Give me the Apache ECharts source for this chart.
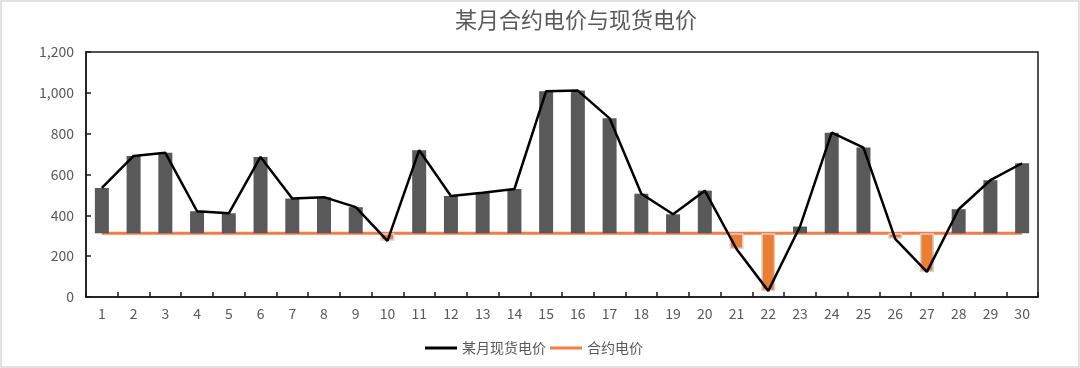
<!DOCTYPE html>
<html>
<head>
<meta charset="utf-8">
<script src="https://cdn.jsdelivr.net/npm/echarts@6/dist/echarts.min.js"></script>
<style>
html,body{margin:0;padding:0;background:#fff;}
#wrap{width:1080px;height:368px;box-sizing:border-box;border:2px solid #e2e2e2;position:relative;overflow:hidden;}
#chart{position:absolute;left:-2px;top:-2px;width:1080px;height:368px;}
</style>
</head>
<body>
<div id="wrap"><div id="chart"></div></div>
<script>
const days = ['1','2','3','4','5','6','7','8','9','10','11','12','13','14','15','16','17','18','19','20','21','22','23','24','25','26','27','28','29','30'];
const spotPrice = [534,691,706,420,410,686,482,489,440,275,719,495,511,529,1008,1011,875,506,405,521,235,30,345,805,732,285,123,430,572,655];
const contractPrice = [312,312,312,312,312,312,312,312,312,312,312,312,312,312,312,312,312,312,312,312,312,312,312,312,312,312,312,312,312,312];
const yTicks = [0,200,400,600,800,1000,1200];

const base = spotPrice.map((v,i)=>Math.min(v,contractPrice[i]));
const up = spotPrice.map((v,i)=>v>contractPrice[i]?v-contractPrice[i]:'-');
const down = spotPrice.map((v,i)=>v<contractPrice[i]?contractPrice[i]-v:'-');

const chart = echarts.init(document.getElementById('chart'), null, {renderer:'canvas'});
const font = "'Noto Sans CJK SC','Noto Sans',sans-serif";
chart.setOption({
  animation:false,
  title:{text:'某月合约电价与现货电价',left:450,top:4,textStyle:{fontFamily:font,fontSize:22,fontWeight:'normal',color:'#595959'}},
  grid:{left:86,right:42,top:52,bottom:71,show:true,borderColor:'#1a1a1a',borderWidth:1.5,backgroundColor:'transparent'},
  legend:{data:['某月现货电价','合约电价'],bottom:8,left:420,itemWidth:32,itemHeight:3,itemGap:4,icon:'rect',
    textStyle:{fontFamily:font,fontSize:14,color:'#595959'}},
  xAxis:{type:'category',data:days,boundaryGap:true,
    axisLine:{lineStyle:{color:'#1a1a1a',width:1.5}},
    axisTick:{show:true,inside:true,length:5,lineStyle:{color:'#1a1a1a',width:1.5}},
    axisLabel:{fontFamily:font,fontSize:14,color:'#595959',margin:10}},
  yAxis:{type:'value',min:yTicks[0],max:yTicks[yTicks.length-1],interval:200,
    axisLine:{show:true,lineStyle:{color:'#1a1a1a',width:1.5}},
    axisTick:{show:true,inside:true,length:5,lineStyle:{color:'#1a1a1a',width:1.5}},
    splitLine:{show:false},
    axisLabel:{fontFamily:font,fontSize:14,color:'#595959',margin:12,formatter:v=>v.toLocaleString('en-US')}},
  series:[
    {name:'合约电价',type:'line',data:contractPrice,symbol:'none',z:1,
      lineStyle:{color:'#F57B47',width:3},itemStyle:{color:'#F57B47'}},
    {name:'base',type:'bar',stack:'s',data:base,barWidth:14,z:2,itemStyle:{color:'transparent'},silent:true},
    {name:'up',type:'bar',stack:'s',data:up,barWidth:14,z:2,itemStyle:{color:'#595959'}},
    {name:'down',type:'bar',stack:'s',data:down,barWidth:14,z:2,itemStyle:{color:'#ED7D31',borderColor:'#d4d4d4',borderWidth:1.5}},
    {name:'某月现货电价',type:'line',data:spotPrice,symbol:'none',z:3,
      lineStyle:{color:'#000000',width:2.5},itemStyle:{color:'#000000'}}
  ]
});
</script>
</body>
</html>
